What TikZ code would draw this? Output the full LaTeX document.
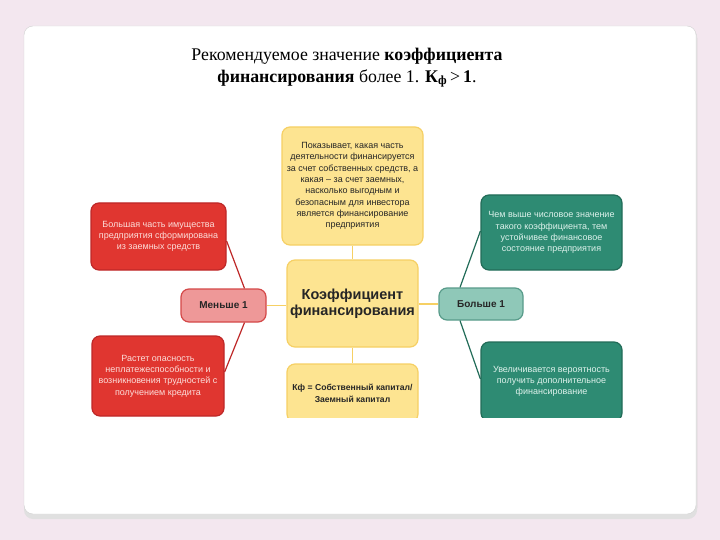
\documentclass[tikz,border=0pt]{standalone}
\usepackage{fontspec}
\setmainfont{Liberation Serif}
\newfontfamily\arialf{Liberation Sans}
\definecolor{bgpink}{RGB}{243,231,239}
\definecolor{redfill}{RGB}{224,54,48}
\definecolor{redline}{RGB}{190,40,40}
\definecolor{pinkfill}{RGB}{238,152,152}
\definecolor{pinkline}{RGB}{212,72,72}
\definecolor{yelfill}{RGB}{253,228,145}
\definecolor{yelline}{RGB}{246,208,100}
\definecolor{grnfill}{RGB}{46,139,115}
\definecolor{grnline}{RGB}{34,108,88}
\definecolor{lgrnfill}{RGB}{143,200,184}
\definecolor{lgrnline}{RGB}{88,155,138}
\definecolor{redtext}{RGB}{252,222,218}
\definecolor{grntext}{RGB}{222,242,236}
\begin{document}
\begin{tikzpicture}[x=1pt,y=-1pt,
  box/.style={rounded corners=8pt,line width=1.2pt,align=center,inner sep=2pt,font=\arialf},
  redbox/.style={box,fill=redfill,draw=redline,text=redtext,font=\arialf\fontsize{9}{11.3}\selectfont},
  grnbox/.style={box,fill=grnfill,draw=grnline,text=grntext,font=\arialf\fontsize{9}{11.3}\selectfont},
  yelbox/.style={box,fill=yelfill,draw=yelline,text=black!85},
  conn/.style={line width=1.2pt}]
\useasboundingbox (0,0) rectangle (720,540);
\fill[bgpink] (0,0) rectangle (720,540);
% card shadow and card
\fill[black!25,rounded corners=9pt] (25,29) rectangle (697,517);
\fill[black!12,rounded corners=9pt] (24,28) rectangle (697,519);
\filldraw[fill=white,draw=black!18,rounded corners=9pt] (24,26) rectangle (696,514);
% title
\node[font=\fontsize{17.8}{21.5}\selectfont,align=center,text=black] (title) at (347,68)
 {Рекомендуемое значение \textbf{коэффициента}\\\textbf{финансирования} более 1. \textbf{К\textsubscript{ф}}\,>\,\textbf{1}.};
% nodes
\node[yelbox,minimum width=141pt,minimum height=118pt,font=\arialf\fontsize{9}{11.3}\selectfont] (top) at (352.5,186)
 {Показывает, какая часть\\деятельности финансируется\\за счет собственных средств, а\\какая – за счет заемных,\\насколько выгодным и\\безопасным для инвестора\\является финансирование\\предприятия};
\node[yelbox,minimum width=131pt,minimum height=87pt,font=\arialf\bfseries\fontsize{14.5}{16.5}\selectfont] (center) at (352.5,303.5)
 {Коэффициент\\финансирования};
\node[redbox,minimum width=135pt,minimum height=67pt] (rt) at (158.5,236.5)
 {Большая часть имущества\\предприятия сформирована\\из заемных средств};
\node[redbox,minimum width=132pt,minimum height=80pt] (rb) at (158,376)
 {Растет опасность\\неплатежеспособности и\\возникновения трудностей с\\получением кредита};
\node[box,fill=pinkfill,draw=pinkline,minimum width=85pt,minimum height=33pt,font=\arialf\bfseries\fontsize{10}{12}\selectfont,text=black!85] (less) at (223.5,305.5) {Меньше 1};
\node[box,fill=lgrnfill,draw=lgrnline,minimum width=84pt,minimum height=32pt,font=\arialf\bfseries\fontsize{10}{12}\selectfont,text=black!85] (more) at (481,304) {Больше 1};
\node[grnbox,minimum width=141pt,minimum height=75pt] (gt) at (551.5,232.5)
 {Чем выше числовое значение\\такого коэффициента, тем\\устойчивее финансовое\\состояние предприятия};
\begin{scope}
\clip (0,0) rectangle (720,417.5);
\node[yelbox,minimum width=131pt,minimum height=58pt,font=\arialf\bfseries\fontsize{8.6}{12}\selectfont] (bot) at (352.5,393)
 {Кф = Собственный капитал/\\Заемный капитал};
\node[grnbox,minimum width=141pt,minimum height=79pt] (gb) at (551.5,381.5)
 {Увеличивается вероятность\\получить дополнительное\\финансирование};
\end{scope}
% connectors
\draw[conn,yelline] (top) -- (center);
\draw[conn,yelline] (center) -- (bot);
\draw[conn,yelline] (center.west |- less.east) -- (less.east);
\draw[conn,yelline] (center.east |- more.west) -- (more.west);
\draw[conn,redline] ([xshift=21pt]less.north) -- ([yshift=-4.5pt]rt.east);
\draw[conn,redline] ([xshift=21pt]less.south) -- ([yshift=4pt]rb.east);
\draw[conn,grnline] ([xshift=-21pt]more.north) -- ([yshift=1.5pt]gt.west);
\draw[conn,grnline] ([xshift=-21pt]more.south) -- ([yshift=2.5pt]gb.west);
\end{tikzpicture}
\end{document}
